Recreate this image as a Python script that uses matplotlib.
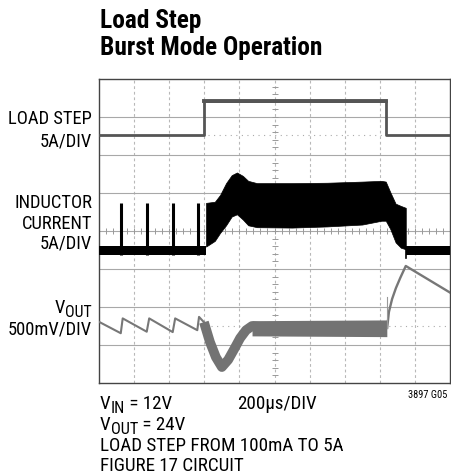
import numpy as np
import matplotlib
matplotlib.use('Agg')
import matplotlib.pyplot as plt
from matplotlib import font_manager

# ---- trace data, in scope divisions (x: 0..10, y: 0..8 from bottom) ----
# load step, 5A/DIV
step_t = [0.0, 2.99, 2.99, 8.19, 8.19, 10.0]
step_v = [6.53, 6.53, 7.42, 7.42, 6.53, 6.53]

# inductor current, 5A/DIV
il_base = [3.38, 3.60]                      # idle band (low/high)
burst_t = [0.63, 1.38, 2.12, 2.81]          # burst pulses
burst_peak = 4.73
sw_t = [3.05, 3.30, 3.45, 3.62, 3.78, 3.93, 4.10, 4.25, 4.50, 5.5, 6.5, 7.5,
        8.05, 8.17, 8.30, 8.45, 8.60, 8.74]
sw_top = [4.74, 4.77, 4.95, 5.26, 5.47, 5.54, 5.45, 5.32, 5.26, 5.26, 5.27, 5.30,
          5.32, 5.30, 5.02, 4.72, 4.66, 4.61]
sw_bot = [3.59, 3.74, 3.95, 4.15, 4.38, 4.44, 4.30, 4.15, 4.10, 4.09, 4.12, 4.17,
          4.27, 4.27, 4.05, 3.70, 3.56, 3.52]

# output voltage, 500mV/DIV
saw_t = [0.0, 0.62, 0.675, 1.36, 1.43, 2.10, 2.17, 2.80, 2.85, 2.99]
saw_v = [1.61, 1.31, 1.70, 1.35, 1.70, 1.34, 1.70, 1.39, 1.74, 1.60]
dip_t = [2.99, 3.16, 3.33, 3.50, 3.68, 3.85, 4.02, 4.19, 4.36, 4.64]
dip_v = [1.60, 1.08, 0.68, 0.42, 0.61, 0.89, 1.18, 1.39, 1.50, 1.47]
band_t = [4.36, 8.20]
band_lo = [1.24, 1.22]
band_hi = [1.64, 1.66]
rec_t = [8.21, 8.26, 8.35, 8.46, 8.58, 8.74, 10.0]
rec_v = [1.45, 1.87, 2.21, 2.50, 2.76, 3.08, 2.38]

# ---- fonts ----
names = {f.name for f in font_manager.fontManager.ttflist}
if 'Roboto Condensed' in names:
    FONT, K = 'Roboto Condensed', 1.0
elif 'Liberation Sans Narrow' in names:
    FONT, K = 'Liberation Sans Narrow', 1.0
else:
    FONT, K = 'Liberation Sans', 0.88
plt.rcParams['font.family'] = [FONT, 'DejaVu Sans']

W, H = 451, 476
fig = plt.figure(figsize=(W / 100, H / 100), dpi=100)
ax = fig.add_axes([99 / W, 1 - 383 / H, 351 / W, 304 / H])
ax.set_xlim(0, 10)
ax.set_ylim(0, 8)
ax.set_xticks([])
ax.set_yticks([])
for s in ax.spines.values():
    s.set_color('#444444')
    s.set_linewidth(1.0)

# graticule
for x in range(1, 10):
    ax.axvline(x, color='#b8b8b8', lw=0.8, ls=(0, (2.5, 2.5)), zorder=1)
for y in range(1, 8):
    ax.axhline(y, color='#a8a8a8', lw=0.8, zorder=1)
minor = np.arange(0.2, 10, 0.2)
ax.plot(minor, np.full_like(minor, 4), ls='none', marker='|', ms=4,
        mew=0.7, color='#999999', zorder=1)
minor_y = np.arange(0.2, 8, 0.2)
ax.plot(np.full_like(minor_y, 5), minor_y, ls='none', marker='_', ms=4,
        mew=0.7, color='#999999', zorder=1)

# reference dots where traces sit
ax.plot([3.1, 8.1], [step_v[0]] * 2, ls=(0, (1, 4)), color='#aaaaaa', lw=0.8, zorder=1)
ax.plot([3.2, 10], [1.49] * 2, ls=(0, (1, 4)), color='#aaaaaa', lw=0.8, zorder=1)

# load step
ax.plot(step_t, step_v, color='#555555', lw=2.0, zorder=3)
ax.plot(step_t[2:4], step_v[2:4], color='#555555', lw=2.8, zorder=3)

# inductor current
ax.fill_between([0, sw_t[0]], il_base[0], il_base[1], color='black', lw=0, zorder=3)
ax.fill_between([sw_t[-1], 10], il_base[0], il_base[1], color='black', lw=0, zorder=3)
ax.vlines(burst_t, il_base[0], burst_peak, color='black', lw=2.2, zorder=3)
ax.fill_between(sw_t, sw_bot, sw_top, color='black', lw=0.5, zorder=3)
ax.plot([sw_t[-1]] * 2, [sw_bot[-1], il_base[0] - 0.08], color='black', lw=1.2, zorder=3)

# output voltage
ax.plot(saw_t, saw_v, color='#777777', lw=1.5, zorder=3)
ax.plot(dip_t, dip_v, color='#737373', lw=7, solid_capstyle='butt',
        solid_joinstyle='round', zorder=3)
ax.fill_between(band_t, band_lo, band_hi, color='#737373', lw=0, zorder=3)
ax.plot(rec_t, rec_v, color='#777777', lw=1.7, zorder=3)
ax.plot([rec_t[0]] * 2, [rec_v[0], 2.26], color='#999999', lw=0.8, zorder=3)

renderer = fig.canvas.get_renderer()


def ftext(px, py, parts, size, right=False, **kw):
    # parts: plain string, or list of (text, is_subscript)
    if isinstance(parts, str):
        parts = [(parts, False)]
    size = size * K
    placed = []
    x = 0.0
    for s, sub in parts:
        t = fig.text(0, 0, s, fontsize=size * (0.86 if sub else 1.0),
                     va='baseline', **kw)
        placed.append((t, x, sub))
        x += t.get_window_extent(renderer).width
    x0 = px - x if right else px
    for t, dx, sub in placed:
        t.set_position(((x0 + dx) / W, 1 - (py + (4 if sub else 0)) / H))


# title
ftext(100, 28, 'Load Step', 18.3, fontweight='bold')
ftext(100, 55, 'Burst Mode Operation', 18.3, fontweight='bold')

# channel labels
lab = 13.3
ftext(92, 124, 'LOAD STEP', lab, right=True)
ftext(92, 146.7, '5A/DIV', lab, right=True)
ftext(92, 208, 'INDUCTOR', lab, right=True)
ftext(92, 229, 'CURRENT', lab, right=True)
ftext(92, 248, '5A/DIV', lab, right=True)
ftext(92, 312.7, [('V', False), ('OUT', True)], lab, right=True)
ftext(92, 334, '500mV/DIV', lab, right=True)

# footer
foot = 13.7
ftext(100, 409, [('V', False), ('IN', True), (' = 12V', False)], foot)
ftext(237, 409, '200µs/DIV', foot)
ftext(100, 430, [('V', False), ('OUT', True), (' = 24V', False)], foot)
ftext(100, 451, 'LOAD STEP FROM 100mA TO 5A', foot)
ftext(100, 471, 'FIGURE 17 CIRCUIT', foot)
ftext(447, 398, '3897 G05', 7.5, right=True)

fig.savefig('out.png', dpi=100)
